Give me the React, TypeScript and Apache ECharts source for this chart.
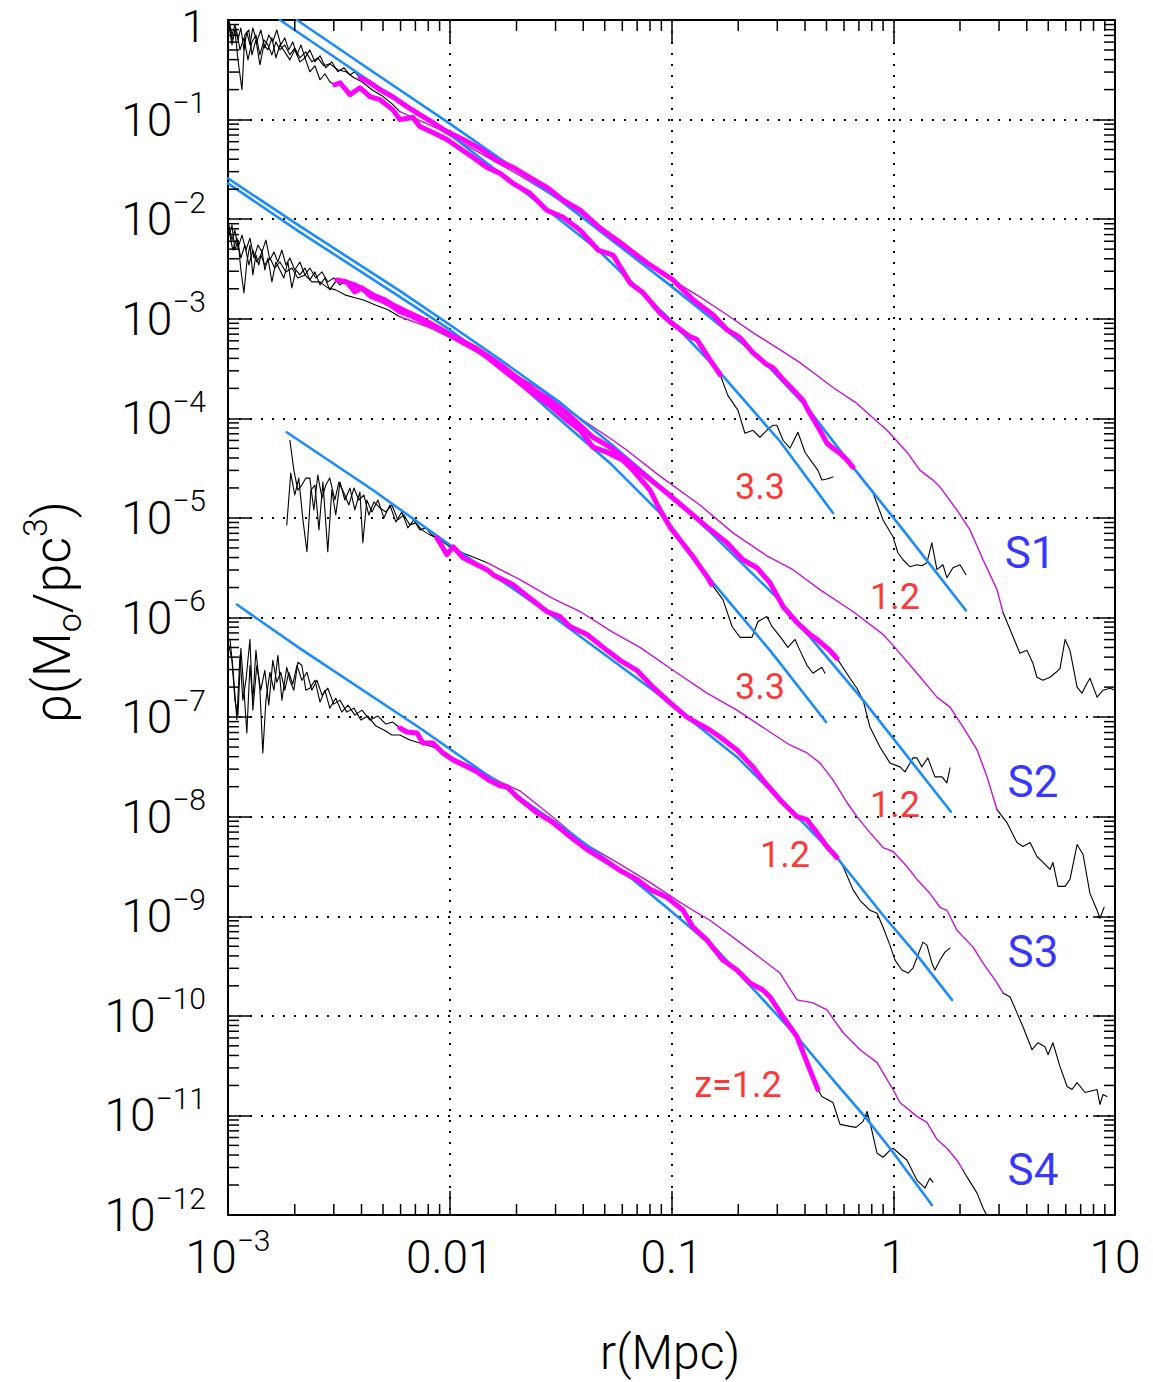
import React, { useEffect, useRef } from 'react';
import * as echarts from 'echarts';

// All points are [log10 r (Mpc), log10 rho (Mo/pc^3)]
const FONT = 'Roboto, "Liberation Sans", sans-serif';

// ---------- tick labels ----------
const X_TICKS = [-3, -2, -1, 0, 1];
const X_TICK_BASE = ['10', '0.01', '0.1', '1', '10'];
const X_TICK_EXP = ['−3', '', '', '', ''];
const Y_TICKS = [0, -1, -2, -3, -4, -5, -6, -7, -8, -9, -10, -11, -12];
const Y_TICK_BASE = ['1', '10', '10', '10', '10', '10', '10', '10', '10', '10', '10', '10', '10'];
const Y_TICK_EXP = ['', '−1', '−2', '−3', '−4', '−5', '−6', '−7', '−8', '−9', '−10', '−11', '−12'];
const MINOR_MULT = [2, 3, 4, 5, 6, 7, 8, 9];

// ---------- S1 ----------
const S1_FIT_Z33 = [[-2.766, 0], [-2.383, -0.58], [-2.0, -1.15], [-1.661, -1.73], [-1.331, -2.31], [-1.02, -2.98], [-0.781, -3.54], [-0.511, -4.23], [-0.272, -4.95]];
const S1_FIT_Z12 = [[-2.689, 0], [-2.36, -0.5], [-2.0, -1.04], [-1.503, -1.81], [-1.02, -2.64], [-0.601, -3.39], [-0.389, -3.89], [-0.182, -4.49], [0.03, -5.08], [0.328, -5.93]];
const S1_NOISE_Z33 = [[-2.996, -0.05], [-2.982, -0.25], [-2.969, -0.1], [-2.955, -0.4], [-2.937, -0.7], [-2.924, -0.15], [-2.906, -0.1], [-2.892, -0.35], [-2.874, -0.2], [-2.856, -0.45], [-2.838, -0.25], [-2.82, -0.3], [-2.802, -0.18], [-2.784, -0.38], [-2.766, -0.25], [-2.744, -0.32], [-2.721, -0.4], [-2.699, -0.3], [-2.676, -0.42], [-2.653, -0.38], [-2.631, -0.52], [-2.608, -0.46], [-2.585, -0.6], [-2.563, -0.54], [-2.541, -0.62], [-2.518, -0.65]];
const S1_NOISE_Z12 = [[-2.996, 0], [-2.982, -0.15], [-2.969, -0.05], [-2.955, -0.2], [-2.942, -0.08], [-2.928, -0.3], [-2.915, -0.12], [-2.901, -0.25], [-2.888, -0.08], [-2.87, -0.22], [-2.852, -0.1], [-2.834, -0.28], [-2.816, -0.15], [-2.798, -0.22], [-2.78, -0.1], [-2.762, -0.25], [-2.744, -0.18], [-2.726, -0.3], [-2.708, -0.22], [-2.689, -0.35], [-2.671, -0.25], [-2.653, -0.38], [-2.631, -0.3], [-2.608, -0.42], [-2.585, -0.36], [-2.559, -0.48], [-2.532, -0.42], [-2.505, -0.52], [-2.477, -0.48], [-2.45, -0.55], [-2.428, -0.52], [-2.405, -0.58]];
const S1_NOISE_Z0 = [[-2.996, -0.02], [-2.982, -0.2], [-2.964, -0.08], [-2.946, -0.3], [-2.928, -0.18], [-2.91, -0.4], [-2.892, -0.22], [-2.874, -0.15], [-2.856, -0.35], [-2.838, -0.2], [-2.82, -0.25], [-2.802, -0.35], [-2.784, -0.22], [-2.766, -0.3], [-2.744, -0.25], [-2.721, -0.35], [-2.699, -0.28], [-2.676, -0.38], [-2.649, -0.32], [-2.622, -0.42], [-2.595, -0.38], [-2.568, -0.46], [-2.541, -0.44], [-2.505, -0.5], [-2.468, -0.52], [-2.432, -0.58], [-2.396, -0.62], [-2.351, -0.7], [-2.306, -0.76], [-2.261, -0.84], [-2.225, -0.92]];
const S1_Z33 = [[-2.518, -0.65], [-2.495, -0.63], [-2.45, -0.75], [-2.405, -0.68], [-2.36, -0.77], [-2.315, -0.8], [-2.257, -0.9], [-2.225, -1.0], [-2.166, -0.98], [-2.135, -1.07], [-2.076, -1.13], [-2.013, -1.2], [-1.954, -1.29], [-1.895, -1.38], [-1.832, -1.48], [-1.773, -1.54], [-1.715, -1.64], [-1.639, -1.74], [-1.562, -1.91], [-1.489, -1.98], [-1.412, -2.11], [-1.331, -2.31], [-1.264, -2.36], [-1.187, -2.64], [-1.128, -2.74], [-1.052, -2.94], [-1.007, -3.03], [-0.917, -3.18], [-0.885, -3.21], [-0.827, -3.41], [-0.781, -3.56]];
const S1_Z12 = [[-2.405, -0.58], [-2.36, -0.63], [-2.315, -0.7], [-2.257, -0.77], [-2.193, -0.87], [-2.135, -0.95], [-2.076, -1.03], [-2.013, -1.12], [-1.94, -1.2], [-1.864, -1.29], [-1.787, -1.41], [-1.715, -1.48], [-1.639, -1.58], [-1.562, -1.68], [-1.489, -1.81], [-1.412, -1.91], [-1.322, -2.09], [-1.201, -2.29], [-1.11, -2.44], [-0.993, -2.61], [-0.903, -2.81], [-0.813, -2.96], [-0.75, -3.11], [-0.691, -3.19], [-0.633, -3.34], [-0.57, -3.46], [-0.543, -3.49], [-0.497, -3.61], [-0.452, -3.71], [-0.407, -3.82], [-0.376, -3.95], [-0.331, -4.12], [-0.299, -4.25], [-0.272, -4.3], [-0.24, -4.35], [-0.208, -4.42], [-0.182, -4.49]];
const S1_Z0 = [[-2.225, -0.92], [-2.044, -1.1], [-1.909, -1.28], [-1.684, -1.56], [-1.458, -1.87], [-1.232, -2.21], [-1.02, -2.58], [-0.872, -2.78], [-0.75, -2.96], [-0.633, -3.14], [-0.511, -3.31], [-0.421, -3.44], [-0.331, -3.59], [-0.272, -3.69], [-0.164, -3.85], [-0.105, -3.97], [-0.028, -4.12], [0.062, -4.34], [0.12, -4.52], [0.179, -4.62], [0.211, -4.69], [0.287, -4.92], [0.346, -5.12], [0.405, -5.42], [0.468, -5.72], [0.495, -5.95]];
const S1_TAIL_Z33 = [[-0.781, -3.56], [-0.746, -3.77], [-0.7, -3.92], [-0.669, -4.15], [-0.633, -4.12], [-0.601, -4.19], [-0.57, -4.12], [-0.543, -4.07], [-0.525, -4.07], [-0.497, -4.22], [-0.466, -4.3], [-0.43, -4.14], [-0.398, -4.34], [-0.367, -4.44], [-0.34, -4.52], [-0.322, -4.62], [-0.299, -4.61], [-0.272, -4.59]];
const S1_TAIL_Z12 = [[-0.182, -4.49], [-0.136, -4.62], [-0.091, -4.75], [-0.046, -5.02], [-0.001, -5.19], [0.021, -5.35], [0.044, -5.42], [0.075, -5.49], [0.107, -5.47], [0.129, -5.48], [0.152, -5.45], [0.174, -5.25], [0.197, -5.52], [0.224, -5.47], [0.242, -5.6], [0.269, -5.5], [0.301, -5.47], [0.328, -5.57]];
const S1_TAIL_Z0 = [[0.495, -5.95], [0.54, -6.19], [0.571, -6.36], [0.603, -6.33], [0.63, -6.46], [0.648, -6.6], [0.675, -6.63], [0.707, -6.6], [0.734, -6.55], [0.752, -6.51], [0.775, -6.22], [0.797, -6.33], [0.829, -6.7], [0.851, -6.76], [0.874, -6.66], [0.887, -6.61], [0.919, -6.8], [0.946, -6.73], [0.978, -6.71], [1.0, -6.73]];

// ---------- S2 ----------
const S2_FIT_Z33 = [[-3.0, -1.64], [-2.676, -2.13], [-2.225, -2.78], [-2.0, -3.11], [-1.773, -3.48], [-1.516, -3.99], [-1.277, -4.45], [-1.052, -4.95], [-0.813, -5.65], [-0.556, -6.33], [-0.303, -7.05]];
const S2_FIT_Z12 = [[-3.0, -1.59], [-2.676, -2.07], [-2.225, -2.72], [-2.0, -3.06], [-1.773, -3.41], [-1.503, -3.84], [-1.277, -4.25], [-1.052, -4.68], [-0.827, -5.14], [-0.525, -5.8], [-0.136, -6.83], [0.26, -7.95]];
const S2_NOISE_Z33 = [[-2.996, -2.16], [-2.982, -2.06], [-2.969, -2.31], [-2.955, -2.21], [-2.942, -2.51], [-2.928, -2.74], [-2.915, -2.43], [-2.901, -2.26], [-2.888, -2.56], [-2.874, -2.36], [-2.861, -2.46], [-2.847, -2.31], [-2.834, -2.51], [-2.82, -2.39], [-2.802, -2.63], [-2.784, -2.43], [-2.766, -2.51], [-2.748, -2.59], [-2.73, -2.43], [-2.712, -2.69], [-2.694, -2.51], [-2.676, -2.56], [-2.653, -2.49], [-2.631, -2.61], [-2.608, -2.53], [-2.585, -2.66], [-2.563, -2.59], [-2.541, -2.71], [-2.509, -2.61]];
const S2_NOISE_Z12 = [[-2.996, -2.06], [-2.982, -2.21], [-2.969, -2.11], [-2.955, -2.29], [-2.937, -2.16], [-2.919, -2.31], [-2.901, -2.19], [-2.883, -2.39], [-2.865, -2.26], [-2.847, -2.33], [-2.829, -2.21], [-2.811, -2.41], [-2.793, -2.33], [-2.775, -2.43], [-2.757, -2.31], [-2.739, -2.46], [-2.721, -2.39], [-2.699, -2.51], [-2.676, -2.43], [-2.653, -2.56], [-2.631, -2.49], [-2.604, -2.59], [-2.576, -2.53], [-2.55, -2.63], [-2.523, -2.59], [-2.495, -2.66], [-2.473, -2.63]];
const S2_NOISE_Z0 = [[-2.996, -2.11], [-2.978, -2.31], [-2.96, -2.19], [-2.942, -2.39], [-2.924, -2.26], [-2.906, -2.46], [-2.888, -2.31], [-2.87, -2.43], [-2.852, -2.36], [-2.834, -2.46], [-2.811, -2.39], [-2.789, -2.49], [-2.766, -2.43], [-2.739, -2.53], [-2.712, -2.49], [-2.685, -2.59], [-2.653, -2.56], [-2.622, -2.63], [-2.585, -2.63], [-2.55, -2.69], [-2.514, -2.71], [-2.473, -2.76], [-2.428, -2.79], [-2.392, -2.81], [-2.338, -2.86], [-2.279, -2.91], [-2.225, -2.98]];
const S2_Z33 = [[-2.509, -2.61], [-2.464, -2.63], [-2.428, -2.73], [-2.396, -2.69], [-2.36, -2.77], [-2.315, -2.81], [-2.27, -2.86], [-2.225, -2.93], [-2.166, -2.98], [-2.112, -3.04], [-2.058, -3.09], [-2.0, -3.16], [-1.94, -3.24], [-1.877, -3.31], [-1.818, -3.41], [-1.773, -3.49], [-1.715, -3.59], [-1.625, -3.75], [-1.548, -3.87], [-1.471, -4.02], [-1.412, -4.12], [-1.354, -4.29], [-1.291, -4.34], [-1.219, -4.42], [-1.174, -4.52], [-1.128, -4.64], [-1.097, -4.72], [-1.052, -4.92], [-1.007, -5.09], [-0.962, -5.22], [-0.903, -5.39], [-0.84, -5.59], [-0.818, -5.67]];
const S2_Z12 = [[-2.473, -2.63], [-2.428, -2.66], [-2.383, -2.71], [-2.338, -2.77], [-2.293, -2.81], [-2.248, -2.87], [-2.193, -2.93], [-2.135, -2.99], [-2.076, -3.06], [-2.013, -3.14], [-1.954, -3.21], [-1.886, -3.29], [-1.818, -3.39], [-1.773, -3.46], [-1.697, -3.59], [-1.625, -3.71], [-1.548, -3.82], [-1.471, -3.95], [-1.412, -4.07], [-1.354, -4.19], [-1.277, -4.29], [-1.201, -4.42], [-1.11, -4.59], [-1.02, -4.75], [-0.93, -4.92], [-0.84, -5.09], [-0.75, -5.25], [-0.678, -5.42], [-0.615, -5.5], [-0.556, -5.65], [-0.497, -5.89], [-0.434, -6.05], [-0.376, -6.17], [-0.344, -6.22], [-0.286, -6.33], [-0.254, -6.41]];
const S2_Z0 = [[-2.225, -2.98], [-2.09, -3.09], [-1.954, -3.24], [-1.773, -3.47], [-1.594, -3.71], [-1.412, -4.0], [-1.277, -4.2], [-1.201, -4.32], [-1.052, -4.58], [-0.872, -4.87], [-0.723, -5.15], [-0.57, -5.38], [-0.452, -5.52], [-0.331, -5.72], [-0.182, -5.94], [-0.046, -6.17], [-0.001, -6.28], [0.107, -6.56], [0.197, -6.8], [0.256, -6.9], [0.315, -7.1], [0.378, -7.33], [0.423, -7.6], [0.468, -7.93]];
const S2_TAIL_Z33 = [[-0.818, -5.67], [-0.768, -5.82], [-0.727, -6.09], [-0.691, -6.2], [-0.637, -6.2], [-0.61, -6.04], [-0.57, -5.99], [-0.547, -6.09], [-0.511, -6.19], [-0.475, -6.3], [-0.443, -6.22], [-0.421, -6.33], [-0.389, -6.48], [-0.362, -6.56], [-0.322, -6.5], [-0.308, -6.56]];
const S2_TAIL_Z12 = [[-0.254, -6.41], [-0.195, -6.61], [-0.164, -6.71], [-0.136, -6.83], [-0.105, -7.1], [-0.06, -7.3], [-0.015, -7.46], [0.03, -7.5], [0.053, -7.55], [0.089, -7.41], [0.107, -7.41], [0.129, -7.5], [0.156, -7.41], [0.188, -7.6], [0.22, -7.6], [0.242, -7.66], [0.256, -7.51]];
const S2_TAIL_Z0 = [[0.468, -7.93], [0.513, -8.06], [0.558, -8.26], [0.585, -8.3], [0.617, -8.26], [0.648, -8.4], [0.671, -8.45], [0.707, -8.53], [0.72, -8.46], [0.743, -8.7], [0.775, -8.7], [0.797, -8.63], [0.829, -8.28], [0.856, -8.38], [0.887, -8.77], [0.919, -8.94], [0.932, -9.02], [0.951, -8.91]];

// ---------- S3 ----------
const S3_FIT_Z12 = [[-2.735, -4.14], [-2.347, -4.72], [-2.013, -5.25], [-1.534, -5.99], [-1.083, -6.73], [-0.705, -7.4], [-0.407, -8.06], [-0.254, -8.41], [-0.046, -8.99], [0.107, -9.39], [0.265, -9.84]];
const S3_NOISE_Z12 = [[-2.735, -5.07], [-2.717, -4.55], [-2.699, -4.77], [-2.681, -4.6], [-2.662, -5.02], [-2.644, -5.34], [-2.626, -4.72], [-2.608, -4.67], [-2.59, -5.12], [-2.572, -4.64], [-2.55, -5.34], [-2.532, -4.72], [-2.514, -4.97], [-2.495, -4.64], [-2.473, -4.82], [-2.45, -4.7], [-2.428, -4.92], [-2.405, -4.74], [-2.392, -5.25], [-2.374, -4.82], [-2.351, -4.94], [-2.324, -4.82], [-2.297, -5.0], [-2.27, -4.87], [-2.243, -5.04], [-2.216, -4.94], [-2.189, -5.1], [-2.162, -5.02], [-2.135, -5.12], [-2.108, -5.1], [-2.081, -5.17], [-2.058, -5.2]];
const S3_NOISE_Z0 = [[-2.721, -4.22], [-2.703, -4.52], [-2.685, -4.72], [-2.667, -4.67], [-2.649, -4.6], [-2.631, -4.6], [-2.613, -4.92], [-2.595, -4.57], [-2.576, -4.8], [-2.559, -4.67], [-2.541, -4.6], [-2.518, -4.82], [-2.5, -4.64], [-2.477, -4.75], [-2.455, -4.87], [-2.432, -4.7], [-2.41, -4.82], [-2.387, -4.77], [-2.365, -4.97], [-2.342, -4.84], [-2.315, -4.9], [-2.288, -4.94], [-2.261, -4.87], [-2.234, -5.02], [-2.207, -4.97], [-2.18, -5.07], [-2.153, -5.05], [-2.126, -5.12], [-2.09, -5.17], [-2.044, -5.22], [-2.0, -5.29], [-1.954, -5.34], [-1.909, -5.38], [-1.864, -5.42], [-1.832, -5.45]];
const S3_Z12 = [[-2.058, -5.2], [-2.044, -5.25], [-2.013, -5.37], [-1.985, -5.29], [-1.94, -5.4], [-1.895, -5.45], [-1.832, -5.52], [-1.805, -5.57], [-1.76, -5.62], [-1.715, -5.67], [-1.67, -5.75], [-1.625, -5.83], [-1.562, -5.94], [-1.503, -5.99], [-1.458, -6.09], [-1.381, -6.17], [-1.291, -6.33], [-1.232, -6.43], [-1.156, -6.53], [-1.083, -6.7], [-1.02, -6.83], [-0.93, -7.0], [-0.827, -7.13], [-0.781, -7.2], [-0.705, -7.33], [-0.633, -7.5], [-0.588, -7.63], [-0.511, -7.83], [-0.434, -8.0], [-0.389, -8.03], [-0.344, -8.16], [-0.299, -8.3], [-0.254, -8.41]];
const S3_Z0 = [[-1.832, -5.45], [-1.684, -5.62], [-1.534, -5.81], [-1.412, -5.94], [-1.264, -6.15], [-1.142, -6.3], [-0.993, -6.53], [-0.84, -6.76], [-0.705, -6.93], [-0.556, -7.15], [-0.466, -7.28], [-0.389, -7.36], [-0.331, -7.46], [-0.272, -7.63], [-0.208, -7.86], [-0.164, -8.0], [-0.105, -8.16], [-0.046, -8.31], [-0.001, -8.35], [0.062, -8.5], [0.107, -8.63], [0.165, -8.77], [0.211, -8.91], [0.242, -8.94], [0.287, -9.14], [0.36, -9.31], [0.405, -9.47], [0.468, -9.67], [0.495, -9.77]];
const S3_TAIL_Z12 = [[-0.254, -8.41], [-0.226, -8.5], [-0.182, -8.73], [-0.15, -8.84], [-0.105, -8.94], [-0.073, -8.97], [-0.046, -9.11], [-0.015, -9.29], [0.008, -9.44], [0.039, -9.54], [0.067, -9.57], [0.089, -9.52], [0.12, -9.34], [0.134, -9.26], [0.152, -9.29], [0.174, -9.47], [0.188, -9.54], [0.211, -9.44], [0.233, -9.36], [0.256, -9.32]];
const S3_TAIL_Z0 = [[0.495, -9.77], [0.527, -9.81], [0.558, -9.97], [0.585, -10.11], [0.626, -10.34], [0.653, -10.27], [0.684, -10.31], [0.698, -10.39], [0.72, -10.27], [0.752, -10.51], [0.784, -10.71], [0.806, -10.74], [0.829, -10.67], [0.865, -10.77], [0.919, -10.74], [0.932, -10.89], [0.946, -10.79], [0.964, -10.81]];

// ---------- S4 ----------
const S4_FIT_Z12 = [[-2.96, -5.87], [-2.676, -6.31], [-2.135, -7.11], [-1.684, -7.81], [-1.458, -8.16], [-1.174, -8.63], [-1.007, -8.94], [-0.795, -9.34], [-0.615, -9.77], [-0.434, -10.21], [-0.272, -10.64], [-0.118, -11.04], [-0.001, -11.37], [0.174, -11.9]];
const S4_NOISE_Z12 = [[-2.996, -6.28], [-2.982, -6.43], [-2.969, -6.83], [-2.955, -6.98], [-2.942, -6.31], [-2.928, -6.73], [-2.915, -7.16], [-2.901, -6.48], [-2.888, -6.83], [-2.874, -6.33], [-2.856, -6.73], [-2.843, -7.36], [-2.829, -6.83], [-2.811, -6.55], [-2.793, -6.73], [-2.775, -6.38], [-2.757, -6.83], [-2.735, -6.5], [-2.721, -6.63], [-2.703, -6.73], [-2.685, -6.45], [-2.667, -6.48], [-2.649, -6.73], [-2.631, -6.71], [-2.608, -6.63], [-2.585, -6.85], [-2.563, -6.73], [-2.541, -6.91], [-2.514, -6.81], [-2.487, -6.95], [-2.459, -6.88], [-2.428, -6.98], [-2.396, -6.93], [-2.36, -7.03], [-2.324, -6.99], [-2.288, -7.07], [-2.257, -7.05], [-2.225, -7.11]];
const S4_NOISE_Z0 = [[-2.991, -6.22], [-2.978, -6.51], [-2.96, -7.03], [-2.946, -6.38], [-2.933, -6.83], [-2.919, -6.63], [-2.901, -6.22], [-2.888, -6.93], [-2.87, -6.48], [-2.852, -6.73], [-2.834, -6.53], [-2.816, -6.88], [-2.798, -6.43], [-2.78, -6.65], [-2.762, -6.55], [-2.744, -6.73], [-2.726, -6.55], [-2.708, -6.67], [-2.689, -6.48], [-2.667, -6.63], [-2.644, -6.55], [-2.622, -6.73], [-2.599, -6.63], [-2.576, -6.78], [-2.55, -6.71], [-2.523, -6.87], [-2.495, -6.83], [-2.464, -6.95], [-2.432, -6.91], [-2.401, -7.03], [-2.369, -6.99], [-2.333, -7.09], [-2.297, -7.13], [-2.261, -7.18], [-2.225, -7.18], [-2.18, -7.23], [-2.135, -7.26], [-2.076, -7.3]];
const S4_Z12 = [[-2.225, -7.11], [-2.193, -7.15], [-2.148, -7.16], [-2.121, -7.26], [-2.076, -7.26], [-2.031, -7.36], [-1.985, -7.43], [-1.94, -7.48], [-1.877, -7.55], [-1.818, -7.64], [-1.773, -7.69], [-1.742, -7.7], [-1.697, -7.8], [-1.607, -7.96], [-1.534, -8.06], [-1.458, -8.2], [-1.381, -8.33], [-1.309, -8.43], [-1.232, -8.54], [-1.156, -8.63], [-1.097, -8.73], [-1.02, -8.81], [-0.948, -8.94], [-0.903, -9.11], [-0.84, -9.24], [-0.768, -9.44], [-0.705, -9.54], [-0.646, -9.67], [-0.588, -9.74], [-0.556, -9.81], [-0.497, -10.01], [-0.434, -10.21], [-0.389, -10.47], [-0.34, -10.74]];
const S4_Z0 = [[-2.076, -7.3], [-1.985, -7.41], [-1.877, -7.52], [-1.773, -7.65], [-1.684, -7.74], [-1.548, -7.98], [-1.399, -8.26], [-1.246, -8.46], [-1.097, -8.66], [-0.975, -8.84], [-0.903, -8.94], [-0.827, -9.04], [-0.705, -9.24], [-0.588, -9.44], [-0.511, -9.57], [-0.434, -9.84], [-0.362, -9.87], [-0.299, -9.94], [-0.226, -10.17], [-0.15, -10.34], [-0.073, -10.47], [-0.001, -10.74], [0.03, -10.87], [0.107, -11.01], [0.152, -11.07], [0.197, -11.24], [0.242, -11.33], [0.287, -11.45], [0.315, -11.55]];
const S4_TAIL_Z12 = [[-0.34, -10.74], [-0.322, -10.81], [-0.272, -10.87], [-0.24, -11.09], [-0.195, -11.11], [-0.168, -11.12], [-0.136, -11.06], [-0.118, -10.96], [-0.105, -11.07], [-0.073, -11.38], [-0.046, -11.42], [-0.015, -11.35], [-0.001, -11.33], [0.062, -11.45], [0.107, -11.65], [0.143, -11.73], [0.165, -11.63], [0.179, -11.67]];
const S4_TAIL_Z0 = [[0.315, -11.55], [0.333, -11.62], [0.378, -11.78], [0.405, -11.93], [0.423, -12.01]];

// ---------- annotations ----------
const ANNOT_TEXT = ['3.3', '1.2', '3.3', '1.2', '1.2', 'z=1.2', 'S1', 'S2', 'S3', 'S4'];
const ANNOT_POS = [[-0.601, -4.69], [0.008, -5.79], [-0.601, -6.7], [0.008, -7.88], [-0.488, -8.38], [-0.7, -10.69], [0.617, -5.35], [0.63, -7.65], [0.63, -9.36], [0.63, -11.55]];
const ANNOT_KIND = ['z', 'z', 'z', 'z', 'z', 'z', 's', 's', 's', 's'];

const BLACK_CURVES = [S1_NOISE_Z33, S1_NOISE_Z12, S1_NOISE_Z0, S1_TAIL_Z33, S1_TAIL_Z12, S1_TAIL_Z0,
  S2_NOISE_Z33, S2_NOISE_Z12, S2_NOISE_Z0, S2_TAIL_Z33, S2_TAIL_Z12, S2_TAIL_Z0,
  S3_NOISE_Z12, S3_NOISE_Z0, S3_TAIL_Z12, S3_TAIL_Z0,
  S4_NOISE_Z12, S4_NOISE_Z0, S4_TAIL_Z12, S4_TAIL_Z0];
const THIN_CURVES = [S1_Z0, S2_Z0, S3_Z0, S4_Z0];
const FIT_CURVES = [S1_FIT_Z33, S1_FIT_Z12, S2_FIT_Z33, S2_FIT_Z12, S3_FIT_Z12, S4_FIT_Z12];
const THICK_CURVES = [S1_Z33, S1_Z12, S2_Z33, S2_Z12, S3_Z12, S4_Z12];

function buildOption() {
  const lineSeries = (data: number[][], color: string, width: number, z: number) => ({
    type: 'line', data, showSymbol: false, symbol: 'none', silent: true, z,
    smooth: false,
    lineStyle: { color, width, cap: 'round', join: 'round' },
    xAxisIndex: 0, yAxisIndex: 0, clip: true,
  });

  const xMinor: number[][] = [];
  for (let d = -3; d < 1; d++) for (const m of MINOR_MULT) xMinor.push([d + Math.log10(m), -12]);
  const yMinor: number[][] = [];
  for (let d = -12; d < 0; d++) for (const m of MINOR_MULT) yMinor.push([-3, d + Math.log10(m)]);

  const tickStyle = { stroke: '#000', lineWidth: 1.5 };
  const minorX = {
    type: 'custom', data: xMinor, silent: true, z: 6, clip: false,
    renderItem: (_p: any, api: any) => {
      const v = api.value(0);
      const b = api.coord([v, -12]);
      const t = api.coord([v, 0]);
      return {
        type: 'group', children: [
          { type: 'line', shape: { x1: b[0], y1: b[1], x2: b[0], y2: b[1] - 11 }, style: tickStyle },
          { type: 'line', shape: { x1: t[0], y1: t[1], x2: t[0], y2: t[1] + 11 }, style: tickStyle },
        ],
      };
    },
  };
  const minorY = {
    type: 'custom', data: yMinor, silent: true, z: 6, clip: false,
    renderItem: (_p: any, api: any) => {
      const v = api.value(1);
      const l = api.coord([-3, v]);
      const r = api.coord([1, v]);
      return {
        type: 'group', children: [
          { type: 'line', shape: { x1: l[0], y1: l[1], x2: l[0] + 11, y2: l[1] }, style: tickStyle },
          { type: 'line', shape: { x1: r[0], y1: r[1], x2: r[0] - 11, y2: r[1] }, style: tickStyle },
        ],
      };
    },
  };

  const annot = {
    type: 'scatter', silent: true, z: 20, symbolSize: 1,
    itemStyle: { color: 'rgba(0,0,0,0)' },
    data: ANNOT_TEXT.map((t, i) => ({
      value: ANNOT_POS[i],
      label: {
        show: true, position: 'inside', formatter: t,
        color: ANNOT_KIND[i] === 'z' ? '#ff0000' : '#0000ff',
        fontSize: ANNOT_KIND[i] === 'z' ? 36 : 44,
        fontFamily: FONT, fontWeight: 400,
      },
    })),
  };

  const richX = {
    b: { fontSize: 46, lineHeight: 64, fontFamily: FONT, fontWeight: 300, color: '#000' },
    s: { fontSize: 30, lineHeight: 30, verticalAlign: 'top', fontFamily: FONT, fontWeight: 300, color: '#000' },
  };
  const richY = {
    b: { fontSize: 46, lineHeight: 64, fontFamily: FONT, fontWeight: 300, color: '#000' },
    c: { fontSize: 44, lineHeight: 44, padding: [14, 0, 0, 0], fontFamily: FONT, fontWeight: 300, color: '#000' },
    s: { fontSize: 30, lineHeight: 30, verticalAlign: 'top', fontFamily: FONT, fontWeight: 300, color: '#000' },
  };
  const fmt = (ticks: number[], base: string[], exp: string[], plain: string) => (v: number) => {
    const i = ticks.indexOf(Math.round(v));
    if (i < 0) return '';
    return exp[i] ? `{b|${base[i]}}{s|${exp[i]}}` : `{${plain}|${base[i]}}`;
  };

  const axisLine = { show: true, onZero: false, lineStyle: { color: '#000', width: 2 } };
  const splitLine = { show: true, lineStyle: { color: '#000', width: 2, type: [2, 9] } };

  return {
    animation: false,
    backgroundColor: '#fff',
    grid: { left: 228, top: 20, right: 38, bottom: 167, containLabel: false, outerBoundsMode: 'none' },
    xAxis: [
      {
        type: 'value', min: -3, max: 1, interval: 1, position: 'bottom',
        axisLine, splitLine,
        axisTick: { show: true, inside: true, length: 24, lineStyle: { color: '#000', width: 1.5 } },
        axisLabel: { show: true, margin: 10, formatter: fmt(X_TICKS, X_TICK_BASE, X_TICK_EXP, 'b'), rich: richX, showMinLabel: true, showMaxLabel: true },
      },
      {
        type: 'value', min: -3, max: 1, interval: 1, position: 'top',
        axisLine, splitLine: { show: false },
        axisTick: { show: true, inside: true, length: 24, lineStyle: { color: '#000', width: 1.5 } },
        axisLabel: { show: false },
      },
    ],
    yAxis: [
      {
        type: 'value', min: -12, max: 0, interval: 1, position: 'left',
        axisLine, splitLine,
        axisTick: { show: true, inside: true, length: 22, lineStyle: { color: '#000', width: 1.5 } },
        axisLabel: { show: true, margin: 22, formatter: fmt(Y_TICKS, Y_TICK_BASE, Y_TICK_EXP, 'c'), rich: richY, showMinLabel: true, showMaxLabel: true },
      },
      {
        type: 'value', min: -12, max: 0, interval: 1, position: 'right',
        axisLine, splitLine: { show: false },
        axisTick: { show: true, inside: true, length: 22, lineStyle: { color: '#000', width: 1.5 } },
        axisLabel: { show: false },
      },
    ],
    graphic: [
      {
        type: 'text', x: 670, y: 1352, z: 100,
        style: { text: 'r(Mpc)', fontSize: 48, fontFamily: FONT, fontWeight: 300, fill: '#000', align: 'center', verticalAlign: 'middle' },
      },
      {
        type: 'text', x: 52, y: 612, rotation: Math.PI / 2, z: 100,
        style: {
          text: '{a|ρ(M}{o|o}{a|/pc}{p|3}{a|)}',
          align: 'center', verticalAlign: 'middle', fill: '#000',
          rich: {
            a: { fontSize: 52, lineHeight: 68, fontFamily: FONT, fontWeight: 300, fill: '#000' },
            o: { fontSize: 34, lineHeight: 38, verticalAlign: 'bottom', fontFamily: FONT, fontWeight: 300, fill: '#000' },
            p: { fontSize: 34, lineHeight: 34, verticalAlign: 'top', fontFamily: FONT, fontWeight: 300, fill: '#000' },
          },
        },
      },
    ],
    series: [
      ...BLACK_CURVES.map((d) => lineSeries(d, '#000000', 1.1, 2)),
      ...THIN_CURVES.map((d) => lineSeries(d, '#c214d4', 1.4, 3)),
      ...FIT_CURVES.map((d) => lineSeries(d, '#1a8cff', 2.6, 4)),
      ...THICK_CURVES.map((d) => lineSeries(d, '#ff00ff', 5, 5)),
      minorX,
      minorY,
      annot,
    ],
  };
}

export default function App() {
  const ref = useRef<HTMLDivElement>(null);
  useEffect(() => {
    if (!ref.current) return;
    const chart = echarts.init(ref.current, null, { renderer: 'svg' });
    chart.setOption(buildOption() as any);
    return () => chart.dispose();
  }, []);
  return (
    <div
      ref={ref}
      style={{ position: 'absolute', left: 0, top: 0, width: 1153, height: 1382, background: '#fff' }}
    />
  );
}
